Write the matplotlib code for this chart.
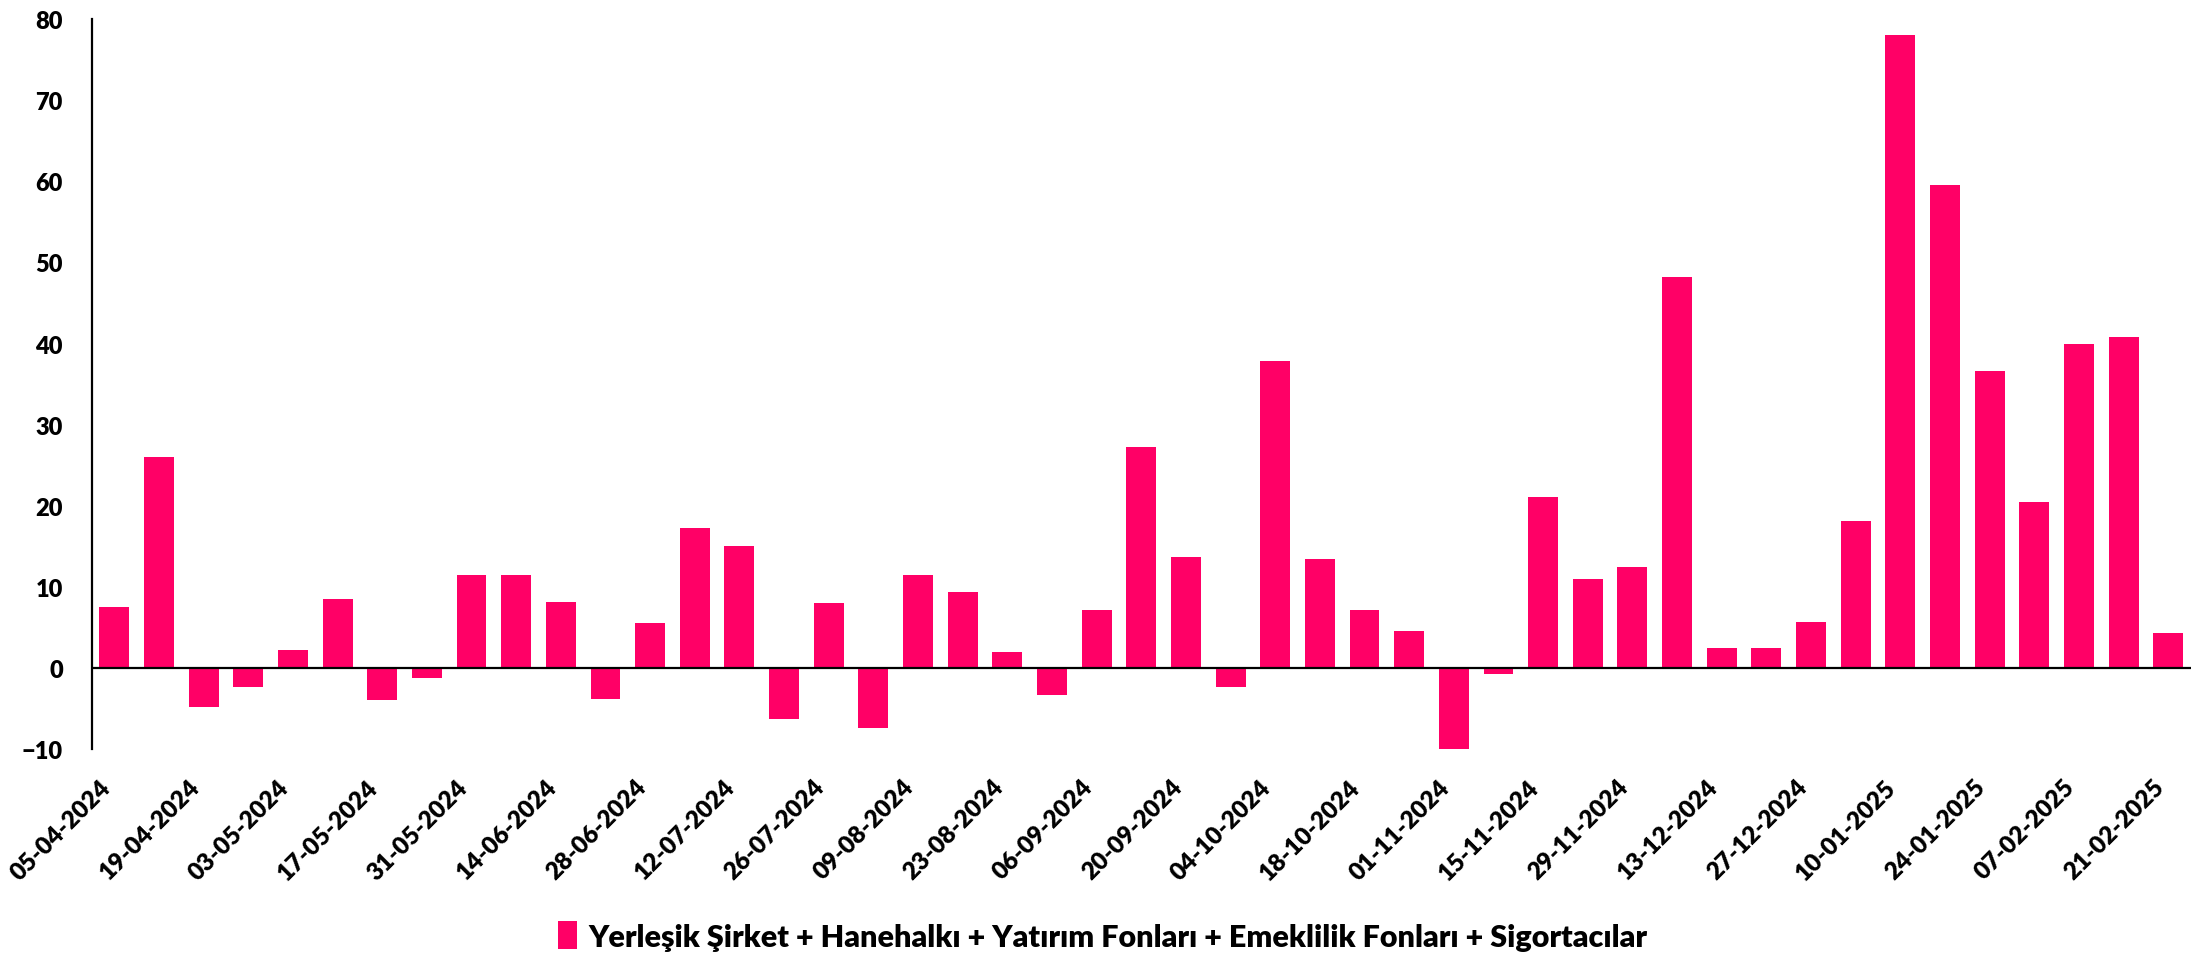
import matplotlib.pyplot as plt
from matplotlib import font_manager

# pick the first family that really has a bold face installed
bold_fams = set()
for f in font_manager.fontManager.ttflist:
    w = f.weight
    if (isinstance(w, int) and w >= 700) or (isinstance(w, str) and "bold" in w.lower()):
        bold_fams.add(f.name)
font = "DejaVu Sans"
for fam in ["Lato", "Roboto", "Open Sans", "Noto Sans", "Liberation Sans"]:
    if fam in bold_fams:
        font = fam
        break

WEIGHT = "heavy"
plt.rcParams['font.family'] = [font, 'DejaVu Sans']
plt.rcParams['font.weight'] = WEIGHT

# weekly dates (Friday), one bar per week
dates = ["05-04-2024", "12-04-2024", "19-04-2024", "26-04-2024", "03-05-2024", "10-05-2024",
         "17-05-2024", "24-05-2024", "31-05-2024", "07-06-2024", "14-06-2024", "21-06-2024",
         "28-06-2024", "05-07-2024", "12-07-2024", "19-07-2024", "26-07-2024", "02-08-2024",
         "09-08-2024", "16-08-2024", "23-08-2024", "30-08-2024", "06-09-2024", "13-09-2024",
         "20-09-2024", "27-09-2024", "04-10-2024", "11-10-2024", "18-10-2024", "25-10-2024",
         "01-11-2024", "08-11-2024", "15-11-2024", "22-11-2024", "29-11-2024", "06-12-2024",
         "13-12-2024", "20-12-2024", "27-12-2024", "03-01-2025", "10-01-2025", "17-01-2025",
         "24-01-2025", "31-01-2025", "07-02-2025", "14-02-2025", "21-02-2025"]

values = [7.5, 26.0, -4.8, -2.3, 2.2, 8.5, -3.9, -1.3, 11.5, 11.4, 8.1, -3.8,
          5.5, 17.3, 15.0, -6.3, 8.0, -7.4, 11.5, 9.3, 1.9, -3.3, 7.2, 27.3,
          13.7, -2.3, 37.8, 13.4, 7.1, 4.5, -10.0, -0.8, 21.1, 11.0, 12.4, 48.2,
          2.4, 2.5, 5.7, 18.1, 78.0, 59.5, 36.6, 20.4, 40.0, 40.8, 4.3]

label = "Yerleşik Şirket + Hanehalkı + Yatırım Fonları + Emeklilik Fonları + Sigortacılar"
color = "#FF0066"

fig = plt.figure(figsize=(22.06, 9.62), dpi=100)
ax = fig.add_axes([0.0417, 0.2204, 0.9513, 0.7586])

x = list(range(len(values)))
ax.bar(x, values, width=0.67, color=color, label=label)
ax.axhline(0, color="black", linewidth=1.6)

ax.set_xlim(-0.5, len(values) - 0.5)
ax.set_ylim(-10, 80)
ax.set_yticks(range(-10, 81, 10))

ax.set_xticks(x[::2])
ax.set_xticklabels(dates[::2], rotation=45, ha="right", fontsize=17.5, fontweight=WEIGHT)
ax.tick_params(axis="x", length=0, pad=19)
ax.tick_params(axis="y", length=0, pad=21, labelsize=17)
for t in ax.get_yticklabels():
    t.set_fontweight(WEIGHT)

for s in ["top", "right", "bottom"]:
    ax.spines[s].set_visible(False)
ax.spines["left"].set_linewidth(1.6)

fig.legend(loc="center", bbox_to_anchor=(0.5, 0.026), frameon=False,
           handlelength=0.6, handleheight=1.0, handletextpad=0.4,
           prop={"weight": WEIGHT, "size": 22})

fig.savefig("out.png", dpi=100)
